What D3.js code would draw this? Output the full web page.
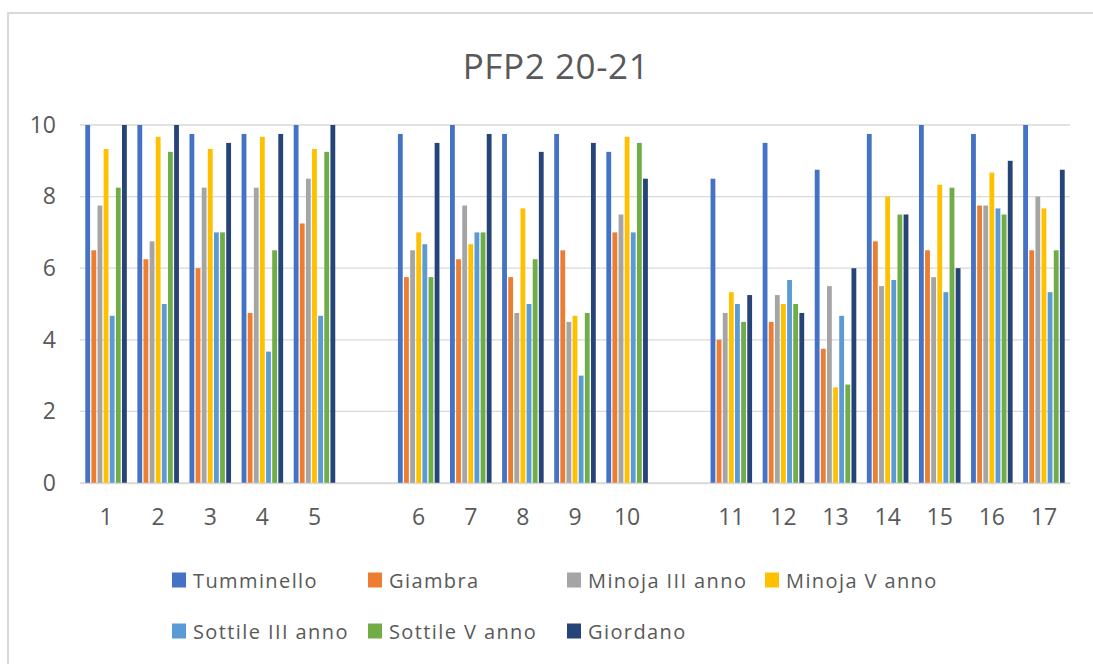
<!DOCTYPE html>
<html>
<head>
<meta charset="utf-8">
<script src="https://cdn.jsdelivr.net/npm/d3@7"></script>
<style>
	body { margin: 0; background: #fff; }
	text { font-family: "Open Sans", sans-serif; fill: #595959; }
</style>
</head>
<body>
<div class="chart"></div>
<script>
// slots with "" are the empty gaps between the groups
var categories = ["1", "2", "3", "4", "5", "", "6", "7", "8", "9", "10", "", "11", "12", "13", "14", "15", "16", "17"];
var seriesNames = ["Tumminello", "Giambra", "Minoja III anno", "Minoja V anno", "Sottile III anno", "Sottile V anno", "Giordano"];
var seriesColors = ["#4472C4", "#ED7D31", "#A5A5A5", "#FFC000", "#5B9BD5", "#70AD47", "#264478"];

var tumminello = [10, 10, 9.75, 9.75, 10, null, 9.75, 10, 9.75, 9.75, 9.25, null, 8.5, 9.5, 8.75, 9.75, 10, 9.75, 10];
var giambra = [6.5, 6.25, 6, 4.75, 7.25, null, 5.75, 6.25, 5.75, 6.5, 7, null, 4, 4.5, 3.75, 6.75, 6.5, 7.75, 6.5];
var minojaIII = [7.75, 6.75, 8.25, 8.25, 8.5, null, 6.5, 7.75, 4.75, 4.5, 7.5, null, 4.75, 5.25, 5.5, 5.5, 5.75, 7.75, 8];
var minojaV = [9.33, 9.67, 9.33, 9.67, 9.33, null, 7, 6.67, 7.67, 4.67, 9.67, null, 5.33, 5, 2.67, 8, 8.33, 8.67, 7.67];
var sottileIII = [4.67, 5, 7, 3.67, 4.67, null, 6.67, 7, 5, 3, 7, null, 5, 5.67, 4.67, 5.67, 5.33, 7.67, 5.33];
var sottileV = [8.25, 9.25, 7, 6.5, 9.25, null, 5.75, 7, 6.25, 4.75, 9.5, null, 4.5, 5, 2.75, 7.5, 8.25, 7.5, 6.5];
var giordano = [10, 10, 9.5, 9.75, 10, null, 9.5, 9.75, 9.25, 9.5, 8.5, null, 5.25, 4.75, 6, 7.5, 6, 9, 8.75];
var yTicks = [0, 2, 4, 6, 8, 10];

var allSeries = [tumminello, giambra, minojaIII, minojaV, sottileIII, sottileV, giordano];

var width = 1093;
var height = 664;
var margin = { left: 80, right: 1070, top: 125, bottom: 483 };

var svg = d3.select(".chart").append("svg")
	.attr("width", width)
	.attr("height", height);

// outer chart border
svg.append("rect")
	.attr("x", 8).attr("y", 13)
	.attr("width", 1100).attr("height", 700)
	.attr("fill", "none")
	.attr("stroke", "#d9d9d9")
	.attr("stroke-width", 2);

svg.append("text")
	.attr("x", 556).attr("y", 79)
	.attr("text-anchor", "middle")
	.attr("font-size", "35px")
	.style("letter-spacing", "0.6px")
	.text("PFP2 20-21");

var x0 = d3.scaleBand()
	.domain(d3.range(categories.length))
	.range([margin.left, margin.right])
	.paddingInner(0.2026)
	.paddingOuter(0.1013);

var x1 = d3.scaleBand()
	.domain(d3.range(seriesNames.length))
	.range([0, x0.bandwidth()])
	.paddingInner(0.2126);

var y = d3.scaleLinear()
	.domain([0, 10])
	.range([margin.bottom, margin.top]);

// gridlines
svg.append("g").selectAll("line")
	.data(yTicks)
	.enter().append("line")
	.attr("x1", margin.left).attr("x2", margin.right)
	.attr("y1", d => y(d)).attr("y2", d => y(d))
	.attr("stroke", "#d9d9d9")
	.attr("stroke-width", 1.3);

var yAxis = svg.append("g")
	.attr("transform", "translate(" + margin.left + ",0)")
	.call(d3.axisLeft(y).tickValues(yTicks).tickSize(0).tickPadding(24));
yAxis.select(".domain").remove();
yAxis.selectAll("text").attr("font-size", "23px").attr("font-family", null);

// bars
var groups = svg.append("g").selectAll("g")
	.data(allSeries)
	.enter().append("g")
	.attr("fill", (d, i) => seriesColors[i]);

groups.each(function(values, s) {
	d3.select(this).selectAll("rect")
		.data(values.map((v, i) => ({ i: i, v: v })).filter(d => d.v !== null))
		.enter().append("rect")
		.attr("x", d => x0(d.i) + x1(s))
		.attr("width", x1.bandwidth())
		.attr("y", d => y(d.v))
		.attr("height", d => y(0) - y(d.v));
});

var xAxis = svg.append("g")
	.attr("transform", "translate(0," + margin.bottom + ")")
	.call(d3.axisBottom(x0).tickFormat(i => categories[i]).tickSize(0).tickPadding(26));
xAxis.select(".domain").attr("stroke", "#d9d9d9").attr("stroke-width", 1.3);
xAxis.selectAll("text").attr("font-size", "23px").attr("font-family", null);

// legend
var legendCols = [172, 368, 567, 765];
var legendRows = [580, 631];
var legend = svg.append("g").selectAll("g")
	.data(seriesNames)
	.enter().append("g")
	.attr("transform", function(d, i) {
		var col = i < 4 ? i : i - 4;
		var row = i < 4 ? 0 : 1;
		return "translate(" + legendCols[col] + "," + legendRows[row] + ")";
	});

legend.append("rect")
	.attr("x", 0).attr("y", -7.5)
	.attr("width", 14).attr("height", 15)
	.attr("fill", (d, i) => seriesColors[i]);

legend.append("text")
	.attr("x", 21).attr("y", 7.5)
	.attr("font-size", "20px")
	.style("letter-spacing", "1.4px")
	.text(d => d);
</script>
</body>
</html>
